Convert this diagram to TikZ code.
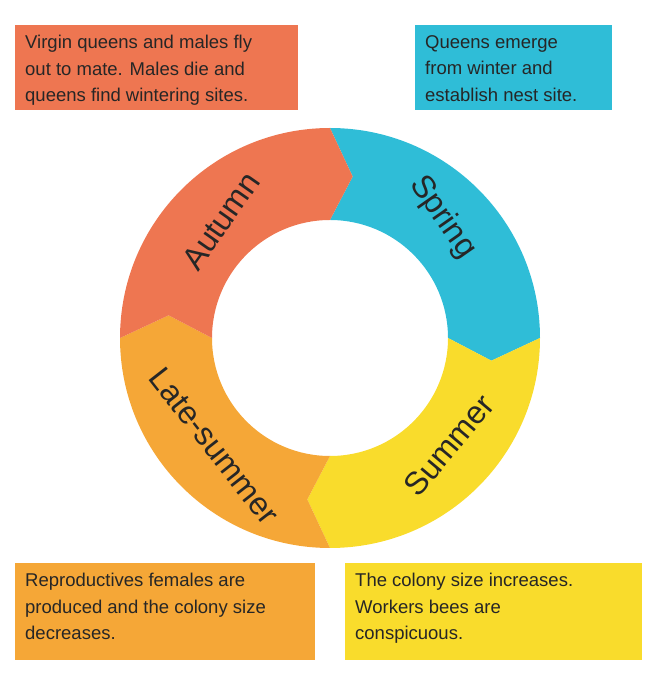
\documentclass[tikz,border=0pt]{standalone}
\usepackage{fontspec}
\setmainfont{Liberation Sans}
\definecolor{aut}{HTML}{EE7651}
\definecolor{spr}{HTML}{2FBDD7}
\definecolor{sum}{HTML}{F9DC2C}
\definecolor{lat}{HTML}{F5A737}
\begin{document}
\begin{tikzpicture}[x=1pt,y=1pt,
  seglabel/.style={font=\fontsize{32}{32}\selectfont,text=black!85},
  infobox/.style={anchor=north west,inner xsep=10pt,inner ysep=10pt,align=left,font=\fontsize{18.5}{26.5}\selectfont,text=black!85}]
\useasboundingbox (0,0) rectangle (660,675);
\def\R{210}\def\r{118}\def\m{163}
\newcommand{\seg}[3]{% color, start, end
  \fill[#1] (#2:\R) arc[start angle=#2,end angle=#3,radius=\R] -- ({#3-8}:\m) -- (#3:\r)
    arc[start angle=#3,end angle=#2,radius=\r] -- ({#2-8}:\m) -- cycle;}
\begin{scope}[shift={(330,337)}]
\seg{spr}{90}{0}
\seg{sum}{0}{-90}
\seg{lat}{-90}{-180}
\seg{aut}{180}{90}
\node[seglabel,rotate=55] (autumn) at (133:160) {Autumn};
\node[seglabel,rotate=-55] (spring) at (47:165) {Spring};
\node[seglabel,rotate=50] (summer) at (-42:160) {Summer};
\node[seglabel,rotate=-52] (late) at (-137:158) {Late-summer};
\end{scope}
\fill[aut] (15,650) rectangle (298,565);
\fill[spr] (415,650) rectangle (612,565);
\fill[lat] (15,112) rectangle (315,15);
\fill[sum] (345,112) rectangle (642,15);
\node[infobox] (t1) at (15,650) {Virgin queens and males fly\\out to mate. Males die and\\queens find wintering sites.};
\node[infobox] (t2) at (415,650) {Queens emerge\\from winter and\\establish nest site.};
\node[infobox] (t3) at (15,112) {Reproductives females are\\produced and the colony size\\decreases.};
\node[infobox] (t4) at (345,112) {The colony size increases.\\Workers bees are\\conspicuous.};
\end{tikzpicture}
\end{document}
